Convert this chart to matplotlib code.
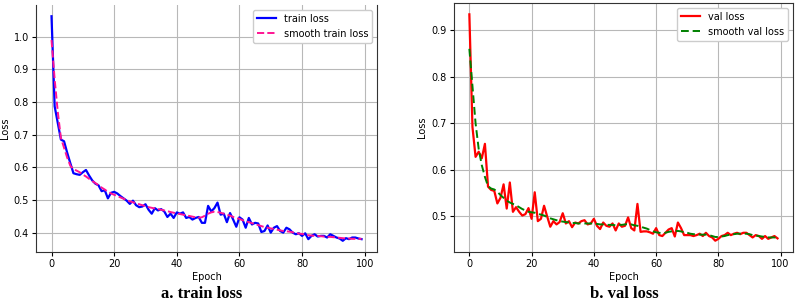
import numpy as np
import matplotlib
matplotlib.use("Agg")
import matplotlib.pyplot as plt

epochs = list(range(100))

train_loss = [
    1.063, 0.787, 0.736, 0.685, 0.680, 0.645, 0.613, 0.582, 0.579, 0.577,
    0.585, 0.592, 0.575, 0.560, 0.550, 0.545, 0.527, 0.530, 0.505, 0.522,
    0.525, 0.520, 0.512, 0.505, 0.498, 0.488, 0.498, 0.484, 0.478, 0.480,
    0.487, 0.470, 0.458, 0.475, 0.468, 0.472, 0.465, 0.448, 0.458, 0.445,
    0.462, 0.458, 0.462, 0.445, 0.448, 0.440, 0.445, 0.448, 0.430, 0.430,
    0.482, 0.465, 0.475, 0.492, 0.455, 0.458, 0.432, 0.460, 0.440, 0.418,
    0.447, 0.440, 0.415, 0.445, 0.425, 0.430, 0.428, 0.402, 0.405, 0.422,
    0.400, 0.415, 0.420, 0.405, 0.400, 0.415, 0.410, 0.400, 0.395, 0.398,
    0.390, 0.398, 0.380, 0.390, 0.395, 0.388, 0.390, 0.390, 0.385, 0.395,
    0.390, 0.385, 0.382, 0.375, 0.383, 0.380, 0.385, 0.385, 0.382, 0.380,
]

smooth_train_loss = [
    0.990, 0.870, 0.770, 0.690, 0.660, 0.630, 0.605, 0.595, 0.590, 0.585,
    0.578, 0.572, 0.565, 0.558, 0.552, 0.545, 0.538, 0.532, 0.525, 0.520,
    0.516, 0.512, 0.508, 0.504, 0.500, 0.496, 0.493, 0.490, 0.487, 0.484,
    0.481, 0.478, 0.476, 0.474, 0.472, 0.470, 0.468, 0.466, 0.463, 0.461,
    0.459, 0.457, 0.455, 0.453, 0.451, 0.449, 0.447, 0.446, 0.447, 0.452,
    0.458, 0.462, 0.464, 0.463, 0.461, 0.458, 0.455, 0.452, 0.448, 0.445,
    0.442, 0.438, 0.435, 0.432, 0.429, 0.426, 0.423, 0.420, 0.417, 0.415,
    0.413, 0.411, 0.409, 0.407, 0.405, 0.404, 0.403, 0.401, 0.399, 0.397,
    0.396, 0.394, 0.392, 0.391, 0.390, 0.390, 0.389, 0.388, 0.387, 0.387,
    0.386, 0.385, 0.384, 0.383, 0.382, 0.382, 0.381, 0.381, 0.381, 0.381,
]

val_loss = [
    0.934, 0.692, 0.628, 0.639, 0.625, 0.656, 0.564, 0.557, 0.555, 0.528,
    0.540, 0.569, 0.517, 0.573, 0.510, 0.520, 0.510, 0.502, 0.505, 0.518,
    0.495, 0.552, 0.490, 0.495, 0.523, 0.500, 0.478, 0.490, 0.483, 0.488,
    0.507, 0.485, 0.490, 0.477, 0.487, 0.485, 0.490, 0.492, 0.483, 0.485,
    0.495, 0.480, 0.473, 0.487, 0.480, 0.478, 0.485, 0.470, 0.485, 0.478,
    0.480, 0.498, 0.475, 0.470, 0.527, 0.467, 0.468, 0.468, 0.466, 0.463,
    0.475, 0.460, 0.458, 0.465, 0.472, 0.475, 0.457, 0.487, 0.475, 0.460,
    0.460, 0.460, 0.458, 0.460, 0.463, 0.458, 0.465, 0.458, 0.455, 0.448,
    0.452, 0.458, 0.460, 0.465, 0.460, 0.463, 0.465, 0.462, 0.465, 0.465,
    0.460, 0.455, 0.460, 0.458, 0.452, 0.458, 0.452, 0.455, 0.458, 0.453,
]

smooth_val_loss = [
    0.860, 0.780, 0.700, 0.645, 0.610, 0.585, 0.565, 0.560, 0.558, 0.553,
    0.546, 0.540, 0.534, 0.530, 0.527, 0.524, 0.520, 0.516, 0.513, 0.510,
    0.509, 0.508, 0.506, 0.504, 0.502, 0.499, 0.496, 0.494, 0.492, 0.490,
    0.489, 0.488, 0.487, 0.486, 0.486, 0.485, 0.485, 0.485, 0.485, 0.485,
    0.485, 0.484, 0.483, 0.483, 0.482, 0.482, 0.482, 0.481, 0.482, 0.482,
    0.483, 0.484, 0.483, 0.481, 0.480, 0.478, 0.476, 0.474, 0.471, 0.468,
    0.466, 0.465, 0.464, 0.465, 0.467, 0.468, 0.468, 0.469, 0.468, 0.466,
    0.465, 0.463, 0.462, 0.462, 0.461, 0.461, 0.461, 0.460, 0.458, 0.456,
    0.456, 0.457, 0.458, 0.460, 0.461, 0.462, 0.463, 0.463, 0.463, 0.463,
    0.462, 0.460, 0.459, 0.458, 0.457, 0.456, 0.455, 0.455, 0.455, 0.454,
]

plt.rcParams['font.size'] = 7

fig = plt.figure(figsize=(7.95, 3.04), dpi=100)
ax1 = fig.add_axes([0.0453, 0.171, 0.429, 0.8125])
ax2 = fig.add_axes([0.571, 0.171, 0.4264, 0.819])

ax1.plot(epochs, train_loss, color='blue', lw=1.6, label='train loss')
ax1.plot(epochs, smooth_train_loss, color='deeppink', lw=1.4, ls='--', label='smooth train loss')
ax2.plot(epochs, val_loss, color='red', lw=1.6, label='val loss')
ax2.plot(epochs, smooth_val_loss, color='green', lw=1.4, ls='--', dashes=(4, 2), label='smooth val loss')

for ax in (ax1, ax2):
    ax.set_xlabel('Epoch', labelpad=2)
    ax.set_ylabel('Loss', labelpad=3)
    ax.grid(True, color='#b8b8b8', lw=0.8)
    ax.set_xticks([0, 20, 40, 60, 80, 100])
    ax.tick_params(length=3, pad=2)
    ax.legend(loc='upper right', fontsize=7, framealpha=1, edgecolor='#cccccc')
    for s in ax.spines.values():
        s.set_color('#333333')

# the left panel is cut off at the top in the source image
ax1.spines['top'].set_visible(False)
ax2.set_yticks([0.5, 0.6, 0.7, 0.8, 0.9])

fig.text(202 / 795, 1 - 294 / 304, 'a. train loss', ha='center', va='center',
         family='Liberation Serif', weight='bold', fontsize=12)
fig.text(624 / 795, 1 - 294 / 304, 'b. val loss', ha='center', va='center',
         family='Liberation Serif', weight='bold', fontsize=12)

fig.savefig('out.png', dpi=100)
